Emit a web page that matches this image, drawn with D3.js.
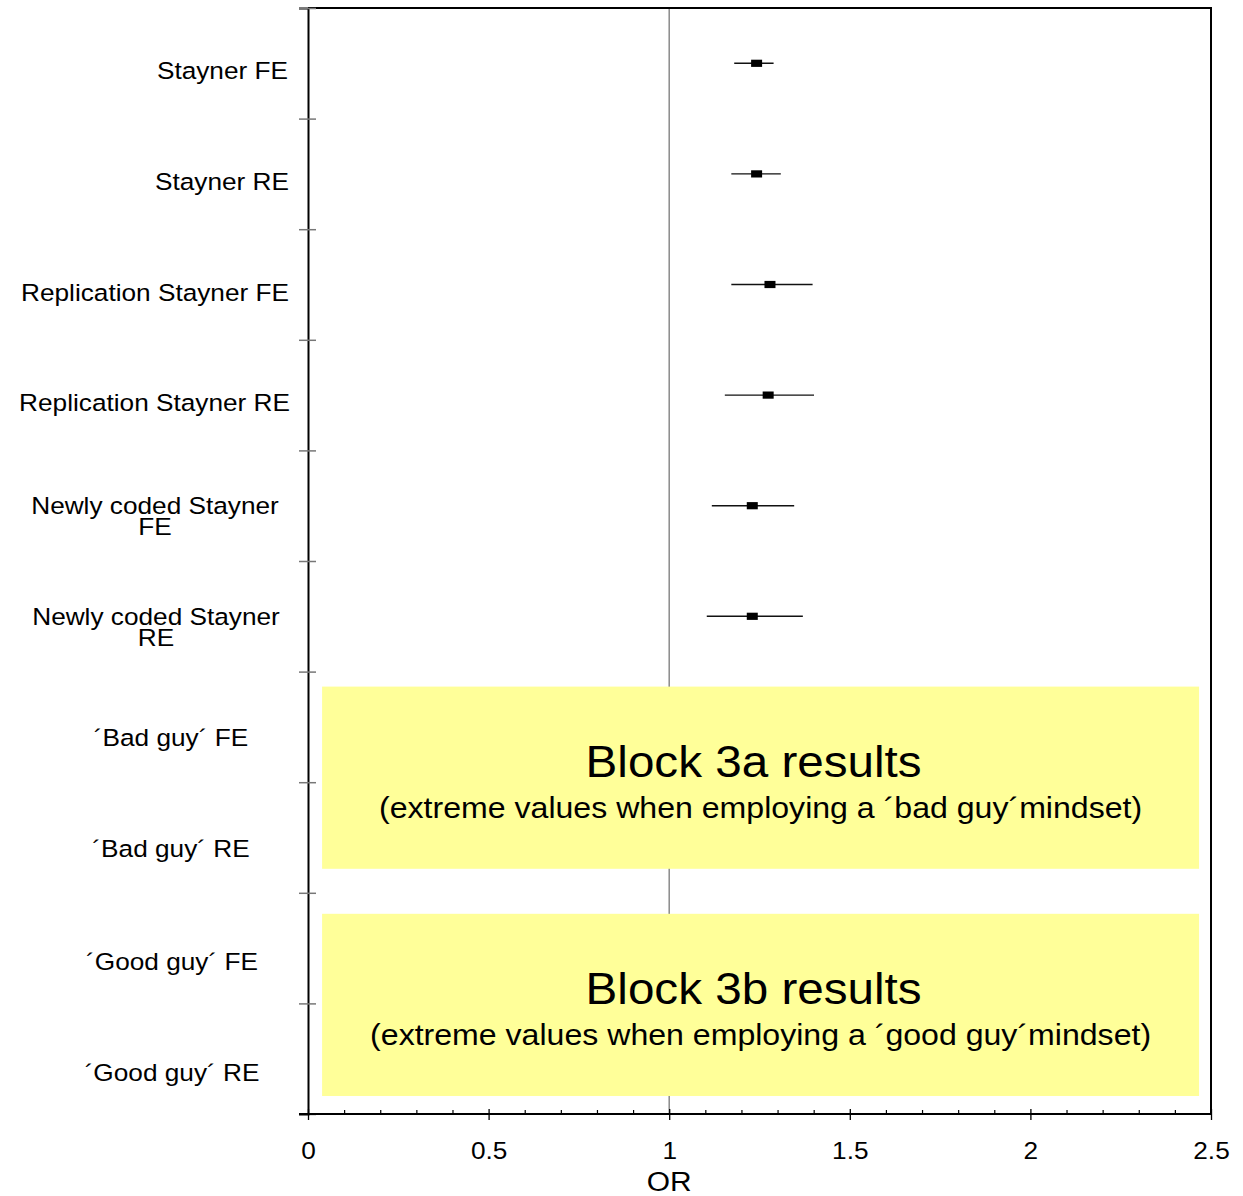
<!DOCTYPE html>
<html>
<head>
<meta charset="utf-8">
<script src="https://cdn.jsdelivr.net/npm/d3@7/dist/d3.min.js"></script>
<style>
  html, body { margin: 0; padding: 0; background: #fff; }
  svg { display: block; font-family: "Liberation Sans", Arial, sans-serif; }
</style>
</head>
<body>
<svg id="chart" width="1243" height="1196"></svg>
<script>
// Study rows, top to bottom
const studies = [
  "Stayner FE",
  "Stayner RE",
  "Replication Stayner FE",
  "Replication Stayner RE",
  "Newly coded Stayner FE",
  "Newly coded Stayner RE",
  "´Bad guy´ FE",
  "´Bad guy´ RE",
  "´Good guy´ FE",
  "´Good guy´ RE"
];
// Pooled odds ratios with 95% CI (null = result shown in block panel)
const orEstimate = [1.242, 1.242, 1.279, 1.274, 1.230, 1.230, null, null, null, null];
const ciLower    = [1.180, 1.172, 1.172, 1.154, 1.118, 1.104, null, null, null, null];
const ciUpper    = [1.289, 1.309, 1.397, 1.401, 1.346, 1.370, null, null, null, null];

// Axis ticks
const majorTicks = [0, 0.5, 1, 1.5, 2, 2.5];
const minorTicks = d3.range(0, 25).map(i => i / 10).filter(v => Math.abs(v * 2 - Math.round(v * 2)) > 1e-9);
const xTitle = "OR";

// Highlight panels covering the block 3 rows
const blockTitles = ["Block 3a results", "Block 3b results"];
const blockNotes = [
  "(extreme values when employing a ´bad guy´mindset)",
  "(extreme values when employing a ´good guy´mindset)"
];
const blockRows = [[6, 8], [8, 10]];

// ---- layout ----
const STRETCH = 1.07;
const svg = d3.select("#chart");
const x = d3.scaleLinear().domain([0, 2.5]).range([308, 1211]);
const y = d3.scaleLinear().domain([0, studies.length]).range([8, 1114]);
const rowMid = i => y(i + 0.5);

// label placement per row
const labelLayout = [
  { anchor: "end", x: 288, dy: 16 },
  { anchor: "end", x: 289, dy: 16 },
  { anchor: "end", x: 289, dy: 16 },
  { anchor: "end", x: 290, dy: 16 },
  { anchor: "middle", x: 155, dy: 8, split: "Newly coded Stayner" },
  { anchor: "middle", x: 156, dy: 9, split: "Newly coded Stayner" },
  { anchor: "middle", x: 171, dy: 19 },
  { anchor: "middle", x: 171, dy: 19 },
  { anchor: "middle", x: 172, dy: 22 },
  { anchor: "middle", x: 172, dy: 22 }
];
const blockInset = [[15, 24], [21, 18]];

// reference line at OR = 1
svg.append("line")
  .attr("x1", x(1)).attr("x2", x(1))
  .attr("y1", y(0)).attr("y2", y(studies.length))
  .attr("stroke", "#8a8a8a").attr("stroke-width", 1.5);

// confidence intervals and point estimates
const pts = studies.map((s, i) => ({ i, or: orEstimate[i], lo: ciLower[i], hi: ciUpper[i] }))
  .filter(d => d.or != null);

svg.append("g").selectAll("line").data(pts).join("line")
  .attr("x1", d => x(d.lo)).attr("x2", d => x(d.hi))
  .attr("y1", d => rowMid(d.i)).attr("y2", d => rowMid(d.i))
  .attr("stroke", "#111").attr("stroke-width", 1.4);

svg.append("g").selectAll("rect").data(pts).join("rect")
  .attr("x", d => x(d.or) - 5.5).attr("y", d => rowMid(d.i) - 3.6)
  .attr("width", 11).attr("height", 7.2)
  .attr("fill", "#000");

// block panels
blockRows.forEach((r, k) => {
  const top = y(r[0]) + blockInset[k][0];
  const bottom = y(r[1]) - blockInset[k][1];
  const left = x(0.039), right = x(2.467);
  const cx = (left + right) / 2;
  svg.append("rect")
    .attr("x", left).attr("y", top)
    .attr("width", right - left).attr("height", bottom - top)
    .attr("fill", "#ffff99");
  svg.append("text")
    .attr("transform", `translate(${cx - 7},${top + 90}) scale(${STRETCH},1)`)
    .attr("text-anchor", "middle")
    .attr("font-size", 44.5)
    .text(blockTitles[k]);
  svg.append("text")
    .attr("transform", `translate(${cx},${top + 131}) scale(${STRETCH},1)`)
    .attr("text-anchor", "middle")
    .attr("font-size", 30)
    .text(blockNotes[k]);
});

// frame: top and right edges
svg.append("path")
  .attr("d", `M${x(0)},${y(0)}H${x(2.5)}V${y(studies.length)}`)
  .attr("fill", "none").attr("stroke", "#000").attr("stroke-width", 2);

// y axis: row boundary ticks crossing the axis line
const yTicks = d3.range(0, studies.length + 1);
const yOut = svg.append("g").attr("transform", `translate(${x(0)},0)`)
  .call(d3.axisLeft(y).tickValues(yTicks).tickSize(9).tickFormat(""));
const yIn = svg.append("g").attr("transform", `translate(${x(0)},0)`)
  .call(d3.axisRight(y).tickValues(yTicks).tickSize(8).tickFormat(""));
[yOut, yIn].forEach(g => {
  g.selectAll(".tick line").attr("stroke", "#777").attr("stroke-width", 1.5);
  g.select(".domain").attr("stroke", "#000").attr("stroke-width", 2);
});
yIn.select(".domain").remove();

// x axis
const xAxis = svg.append("g").attr("transform", `translate(0,${y(studies.length)})`)
  .call(d3.axisBottom(x).tickValues(majorTicks).tickSize(6).tickSizeOuter(0)
    .tickFormat(d3.format("")));
xAxis.select(".domain").attr("stroke", "#000").attr("stroke-width", 2)
  .attr("d", `M${x(0) - 9},0H${x(2.5)}`);
xAxis.selectAll(".tick line").attr("stroke", "#000").attr("stroke-width", 1.3);
xAxis.selectAll(".tick text")
  .attr("y", 45).attr("dy", 0)
  .attr("fill", "#000")
  .attr("font-size", 24.5)
  .attr("font-family", "Liberation Sans, Arial, sans-serif")
  .attr("transform", `scale(${STRETCH},1)`);

const xMajorIn = svg.append("g").attr("transform", `translate(0,${y(studies.length)})`)
  .call(d3.axisTop(x).tickValues(majorTicks).tickSize(5).tickFormat(""));
xMajorIn.select(".domain").remove();
xMajorIn.selectAll(".tick line").attr("stroke", "#000").attr("stroke-width", 1.3);

const xMinor = svg.append("g").attr("transform", `translate(0,${y(studies.length)})`)
  .call(d3.axisTop(x).tickValues(minorTicks).tickSize(4).tickFormat(""));
xMinor.select(".domain").remove();
xMinor.selectAll(".tick line").attr("stroke", "#000").attr("stroke-width", 1.2);

svg.append("text")
  .attr("transform", `translate(${x(1)},1191) scale(${STRETCH},1)`)
  .attr("text-anchor", "middle")
  .attr("font-size", 28)
  .text(xTitle);

// study labels
studies.forEach((name, i) => {
  const L = labelLayout[i];
  const lines = L.split && name.startsWith(L.split)
    ? [L.split, name.slice(L.split.length).trim()]
    : [name];
  lines.forEach((line, j) => {
    svg.append("text")
      .attr("transform", `translate(${L.x},${rowMid(i) + L.dy + j * 21}) scale(${STRETCH},1)`)
      .attr("text-anchor", L.anchor)
      .attr("font-size", 24.5)
      .text(line);
  });
});
</script>
</body>
</html>
